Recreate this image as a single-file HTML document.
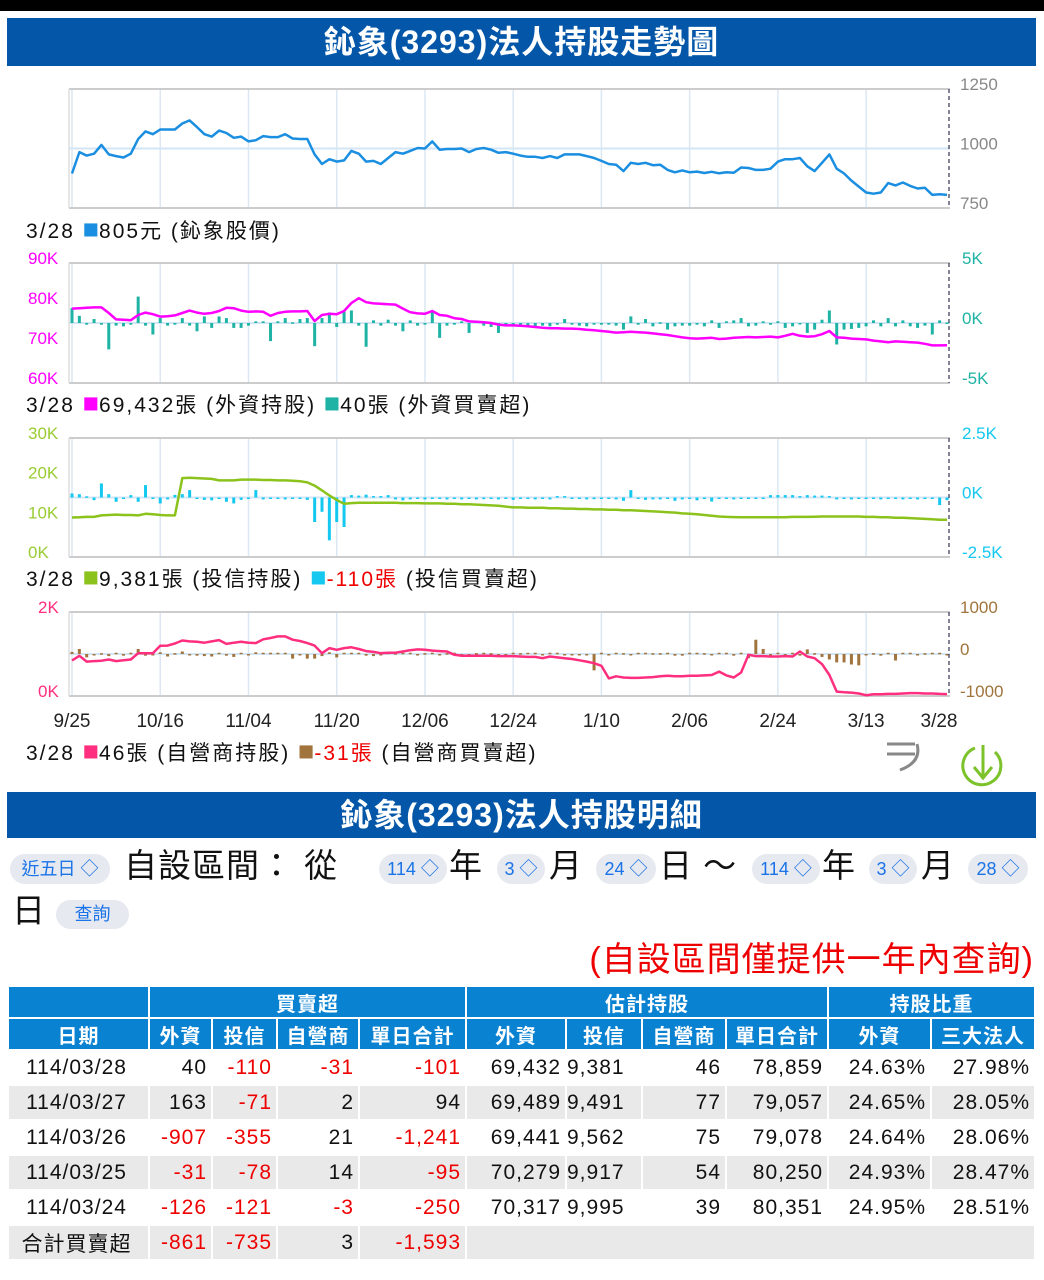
<!DOCTYPE html>
<html><head><meta charset="utf-8">
<style>
*{margin:0;padding:0;box-sizing:border-box}
body{width:1044px;height:1280px;background:#fff;font-family:"Liberation Sans","Noto Sans CJK TC",sans-serif;position:relative;overflow:hidden;color:#111}
.abs{position:absolute}
.bar{left:7px;width:1029px;background:#0457a8;color:#fff;font-weight:bold;font-size:32px;text-align:center;letter-spacing:1px}
.pill{position:absolute;background:#e6e9ef;border-radius:16px;color:#1a73e8;font-size:18px;height:30px;line-height:30px;text-align:center}
.big{position:absolute;font-size:33px;line-height:40px;letter-spacing:1px}
table{position:absolute;left:7px;top:985px;width:1029px;border-collapse:collapse;font-size:21px}
td,th{border:2px solid #fff;white-space:nowrap}
th{background:#0a82d2;color:#fff;font-weight:bold;height:32px;font-size:20px;letter-spacing:1px}
td{height:35px;text-align:right;padding-right:4px;letter-spacing:1px}
td.d{text-align:center}
tr.g td{background:#e9e9e9}
.r{color:#e00}
</style></head><body>
<div class="abs" style="left:0;top:0;width:1044px;height:11px;background:#000"></div>
<div class="abs bar" style="top:18px;height:48px;line-height:48px">鈊象(3293)法人持股走勢圖</div>
<svg id="ch" class="abs" style="left:0;top:0" width="1044" height="790"></svg>
<div class="abs bar" style="top:792px;height:46px;line-height:46px">鈊象(3293)法人持股明細</div>
<div class="pill" style="left:10px;top:854px;width:100px">近五日 ◇</div>
<div class="big" style="left:124px;top:846px">自設區間： 從</div>
<div class="pill" style="left:379px;top:854px;width:68px">114 ◇</div>
<div class="big" style="left:449px;top:846px">年</div>
<div class="pill" style="left:497px;top:854px;width:48px">3 ◇</div>
<div class="big" style="left:549px;top:846px">月</div>
<div class="pill" style="left:596px;top:854px;width:60px">24 ◇</div>
<div class="big" style="left:659px;top:846px">日 ～</div>
<div class="pill" style="left:752px;top:854px;width:68px">114 ◇</div>
<div class="big" style="left:822px;top:846px">年</div>
<div class="pill" style="left:869px;top:854px;width:48px">3 ◇</div>
<div class="big" style="left:921px;top:846px">月</div>
<div class="pill" style="left:968px;top:854px;width:60px">28 ◇</div>
<div class="big" style="left:12px;top:891px">日</div>
<div class="pill" style="left:56px;top:900px;width:73px;height:29px;line-height:29px">查詢</div>
<div class="big r" style="right:10px;top:940px;font-size:34px">(自設區間僅提供一年內查詢)</div>
<table>
<tr><th></th><th colspan="4">買賣超</th><th colspan="4">估計持股</th><th colspan="2">持股比重</th></tr>
<tr><th style="width:141px">日期</th><th style="width:63px">外資</th><th style="width:65px">投信</th><th style="width:82px">自營商</th><th style="width:107px">單日合計</th><th style="width:100px">外資</th><th style="width:76px">投信</th><th style="width:84px">自營商</th><th style="width:102px">單日合計</th><th style="width:103px">外資</th><th>三大法人</th></tr>
<tr><td class="d">114/03/28</td><td>40</td><td class="r">-110</td><td class="r">-31</td><td class="r">-101</td><td>69,432</td><td style="text-align:left">9,381</td><td>46</td><td>78,859</td><td>24.63%</td><td>27.98%</td></tr>
<tr class="g"><td class="d">114/03/27</td><td>163</td><td class="r">-71</td><td>2</td><td>94</td><td>69,489</td><td style="text-align:left">9,491</td><td>77</td><td>79,057</td><td>24.65%</td><td>28.05%</td></tr>
<tr><td class="d">114/03/26</td><td class="r">-907</td><td class="r">-355</td><td>21</td><td class="r">-1,241</td><td>69,441</td><td style="text-align:left">9,562</td><td>75</td><td>79,078</td><td>24.64%</td><td>28.06%</td></tr>
<tr class="g"><td class="d">114/03/25</td><td class="r">-31</td><td class="r">-78</td><td>14</td><td class="r">-95</td><td>70,279</td><td style="text-align:left">9,917</td><td>54</td><td>80,250</td><td>24.93%</td><td>28.47%</td></tr>
<tr><td class="d">114/03/24</td><td class="r">-126</td><td class="r">-121</td><td class="r">-3</td><td class="r">-250</td><td>70,317</td><td style="text-align:left">9,995</td><td>39</td><td>80,351</td><td>24.95%</td><td>28.51%</td></tr>
<tr class="g"><td class="d">合計買賣超</td><td class="r">-861</td><td class="r">-735</td><td>3</td><td class="r">-1,593</td><td colspan="6"></td></tr>
</table>
<script>
const dateLabels=["9/25","10/16","11/04","11/20","12/06","12/24","1/10","2/06","2/24","3/13","3/28"];
const price=[895,985,970,978,1015,975,968,962,978,1040,1072,1060,1080,1080,1080,1105,1118,1090,1060,1050,1075,1065,1045,1050,1030,1035,1052,1048,1048,1060,1042,1040,1040,975,935,955,945,950,990,978,945,948,935,960,985,978,990,1002,1000,1030,995,998,998,1000,985,998,1002,995,982,985,978,970,965,965,960,968,960,975,975,975,968,960,948,935,932,905,940,935,940,930,932,910,900,908,900,903,897,902,896,900,898,920,918,910,910,915,945,955,955,960,925,905,940,975,915,895,865,840,815,810,815,855,845,857,843,832,835,805,808,805];
const foreignHold=[78.6,78.7,78.8,78.9,78.9,77.5,75.9,75.8,75.7,77.0,77.6,77.2,76.6,76.7,76.9,77.5,78.1,77.6,77.3,77.5,78.0,78.8,78.7,78.1,77.8,77.9,77.8,76.8,77.5,77.8,77.9,77.9,78.0,75.5,77.0,77.3,77.2,78.0,80.0,81.2,80.2,79.9,79.8,79.7,79.6,78.6,77.7,77.4,77.3,78.0,77.0,76.8,76.2,76.0,75.4,75.3,75.2,75.0,74.6,74.4,74.4,74.3,74.2,74.0,73.8,73.7,73.7,73.6,73.6,73.5,73.3,73.2,73.0,72.8,72.6,72.7,72.8,72.7,72.6,72.4,72.2,72.0,71.7,71.4,71.2,71.1,71.2,71.3,71.0,71.1,71.3,71.4,71.5,71.4,71.5,71.6,71.4,71.8,72.3,71.8,71.6,71.7,72.2,73.0,71.4,71.3,71.1,71.0,70.9,70.6,70.4,70.2,70.4,70.3,70.2,70.1,69.8,69.4,69.4,69.432];
const foreignNet=[1240,600,-140,330,-140,-2200,-220,-280,-140,2200,-220,-960,410,-220,-140,410,-220,-690,550,-410,550,410,-410,-410,-220,140,140,-1510,140,410,55,330,410,-1930,410,880,-330,1045,1045,-220,-1980,220,-220,275,-220,-690,220,-220,-140,960,-1240,-220,-140,140,-825,140,-220,-330,-825,-140,-220,-140,-220,-330,-220,-280,-140,330,-140,-220,-280,-140,-140,-140,-220,-550,550,-140,330,-280,55,-550,-280,-220,-220,-140,-280,220,-410,140,220,410,-280,-220,140,-140,140,-410,-280,-55,-825,-550,275,1045,-1790,-550,-495,-410,-280,220,-280,410,-280,220,-280,-410,-220,-960,220,40];
const trustHold=[9.97,10.0,10.1,10.1,10.5,10.6,10.7,10.6,10.6,10.5,10.9,10.8,10.6,10.5,10.5,19.9,20.0,19.9,19.8,19.7,19.3,19.3,19.3,19.5,19.5,19.5,19.4,19.4,19.3,19.3,19.2,19.1,18.8,18.0,16.8,15.5,14.4,13.4,13.6,13.7,13.7,13.7,13.7,13.7,13.7,13.6,13.6,13.6,13.5,13.5,13.5,13.4,13.4,13.3,13.3,13.2,13.1,13.0,12.9,12.7,12.5,12.5,12.4,12.4,12.4,12.3,12.3,12.2,12.2,12.1,12.1,12.0,12.0,11.9,11.9,11.8,11.8,11.7,11.6,11.5,11.4,11.3,11.2,11.0,10.9,10.8,10.6,10.4,10.2,10.1,10.05,10.0,10.0,10.0,10.0,10.0,10.0,10.0,10.1,10.1,10.1,10.15,10.2,10.2,10.2,10.2,10.2,10.2,10.1,10.1,10.0,10.0,9.9,9.9,9.8,9.7,9.6,9.5,9.4,9.381];
const trustNet=[170,140,50,-110,590,140,-180,0,100,-180,520,-60,-250,-80,110,140,310,-60,-100,-120,-60,-180,-250,-100,-60,310,-80,-60,-50,-80,-60,-60,-100,-1030,-600,-1800,-1030,-1240,100,80,120,60,60,100,-80,-120,-80,-60,-80,-60,-40,-80,-60,-80,-60,-80,-70,-60,-80,-60,-100,-60,-60,-80,-60,-80,60,60,-60,-60,-80,-70,-60,-60,-80,-140,310,-60,-100,-80,-80,-60,-140,-80,-60,-120,-60,-170,-60,-60,-80,-60,-60,-50,-60,100,100,100,100,60,100,80,80,60,-80,-60,-80,-60,-60,-60,-80,-60,-60,-80,-60,-80,-60,-60,-320,-110];
const dealerHold=[845,956,820,830,840,870,830,850,870,1020,1020,1020,1195,1200,1250,1322,1300,1290,1270,1300,1330,1240,1270,1290,1270,1260,1350,1380,1418,1418,1340,1310,1260,1200,1020,1140,1100,1140,1160,1120,1070,1050,1020,1030,1030,1060,1090,1110,1100,1080,1070,1060,980,960,960,960,960,960,950,950,950,940,930,930,900,940,920,900,880,850,820,780,720,420,470,440,430,430,440,450,470,480,470,470,480,480,490,500,582,490,440,560,980,950,950,940,940,950,940,1060,940,900,760,500,104,90,80,60,20,40,40,50,50,60,70,70,60,60,50,46];
const dealerNet=[50,120,-80,-30,20,-50,30,-40,30,120,-40,-30,40,-60,20,60,-30,-40,-50,-60,30,-40,-70,30,-30,40,30,30,30,30,-110,-30,-110,-110,-50,40,-80,30,30,30,-40,-50,-30,30,20,30,30,-20,20,30,-30,20,30,-30,-40,20,30,20,-30,-20,30,20,30,30,-30,30,30,-20,-20,-20,-20,-390,30,-20,30,20,-20,30,30,20,20,30,-40,-40,30,30,20,-30,30,30,-40,30,-100,340,120,-20,30,-30,30,-40,110,20,-70,-130,-200,-200,-250,-270,-30,20,-40,30,-155,30,30,-20,20,30,30,-31];

const svg=document.getElementById('ch');const NS='http://www.w3.org/2000/svg';
const X0=72,X1=947,N=price.length;
const xs=i=>X0+i*(X1-X0)/(N-1);
function mk(tag,attrs,name,text){const e=document.createElementNS(NS,tag);for(const k in attrs)e.setAttribute(k,attrs[k]);


if(text!==undefined)e.textContent=text;svg.appendChild(e);return e;}
function frame(top,bot,name,hlines){
 for(let k=0;k<dateLabels.length-1;k++){const x=xs(k*12);mk('line',{x1:x,x2:x,y1:top,y2:bot,stroke:'#dbe7f3','stroke-width':1.5},name+'-gridline');}
 (hlines||[]).forEach(y=>mk('line',{x1:69,x2:950,y1:y,y2:y,stroke:'#d3e6f5','stroke-width':2},name+'-hline'));
 mk('line',{x1:69,x2:950,y1:top,y2:top,stroke:'#ccc','stroke-width':2},name+'-top-border');
 mk('line',{x1:69,x2:950,y1:bot,y2:bot,stroke:'#ccc','stroke-width':2},name+'-bottom-border');
 mk('line',{x1:69,x2:69,y1:top,y2:bot,stroke:'#ddd','stroke-width':1.5},name+'-left-border');
 mk('line',{x1:X1+2,x2:X1+2,y1:top,y2:bot,stroke:'#335','stroke-width':1.2,'stroke-dasharray':'4,3'},name+'-cursor');
}
function line(vals,sc,color,name,w){const d=vals.map((v,i)=>(i?'L':'M')+xs(i).toFixed(1)+','+sc(v).toFixed(1)).join('');mk('path',{d,fill:'none',stroke:color,'stroke-width':w||2.5,'stroke-linejoin':'round'},name);}
function bars(vals,sc,color,name){const z=sc(0);vals.forEach((v,i)=>{const y=sc(v);mk('rect',{x:xs(i)-1.5,y:Math.min(y,z),width:3,height:Math.max(1.5,Math.abs(y-z)),fill:color},name);});}
function lab(x,y,t,c,name,anchor){mk('text',{x,y,fill:c,'font-size':17,'text-anchor':anchor||'start','font-family':'Liberation Sans, sans-serif'},name,t);}
function legend(y,parts,name){const t=mk('text',{x:26,y,'font-size':21,'letter-spacing':'2',fill:'#111','font-family':'Liberation Sans, Noto Sans CJK TC, sans-serif'},name);
 parts.forEach(p=>{const s=document.createElementNS(NS,'tspan');if(p[1])s.setAttribute('fill',p[1]);if(p[0]==='■'){s.setAttribute('font-size','27');s.setAttribute('letter-spacing','0');}s.textContent=p[0];t.appendChild(s);});}

// chart 1 price
const pY=v=>208-(v-750)/500*119;
frame(89,208,'price-chart',[pY(1000)]);
line(price,pY,'#1a8ee0','price-line');
[[1250,'1250'],[1000,'1000'],[750,'750']].forEach(a=>lab(960,pY(a[0])+1,a[1],'#888','price-axis-tick'));
legend(238,[['3/28 '],['■','#1a8ee0'],['805元 (鈊象股價)']],'price-legend');

// chart 2 foreign
const fY=v=>383-(v-60)/30*120, fnY=v=>323-v/5000*60;
frame(263,383,'foreign-chart',[fnY(0)]);
bars(foreignNet,fnY,'#1fb3a5','foreign-net-bar');
line(foreignHold,fY,'#ff00ff','foreign-holding-line');
[[90,'90K'],[80,'80K'],[70,'70K'],[60,'60K']].forEach(a=>lab(28,fY(a[0])+1,a[1],'#f0f','foreign-left-tick'));
[[5000,'5K'],[0,'0K'],[-5000,'-5K']].forEach(a=>lab(962,fnY(a[0])+1,a[1],'#1fb3a5','foreign-right-tick'));
legend(412,[['3/28 '],['■','#ff00ff'],['69,432張 (外資持股) '],['■','#1fb3a5'],['40張 (外資買賣超)']],'foreign-legend');

// chart 3 trust
const tY=v=>557-v/30*119, tnY=v=>497.5-v/2500*59.5;
frame(438,557,'trust-chart',[tnY(0)]);
bars(trustNet,tnY,'#14c8f0','trust-net-bar');
line(trustHold,tY,'#8cc21c','trust-holding-line');
[[30,'30K'],[20,'20K'],[10,'10K'],[0,'0K']].forEach(a=>lab(28,tY(a[0])+1,a[1],'#9c3','trust-left-tick'));
[[2500,'2.5K'],[0,'0K'],[-2500,'-2.5K']].forEach(a=>lab(962,tnY(a[0])+1,a[1],'#14c8f0','trust-right-tick'));
legend(586,[['3/28 '],['■','#8cc21c'],['9,381張 (投信持股) '],['■','#14c8f0'],['-110張','#e00'],[' (投信買賣超)']],'trust-legend');

// chart 4 dealer
const dY=v=>696-v/2000*84, dnY=v=>654-v/1000*42;
frame(612,696,'dealer-chart',[dnY(0)]);
bars(dealerNet,dnY,'#a0743c','dealer-net-bar');
line(dealerHold,dY,'#ff2e7e','dealer-holding-line');
[[2000,'2K'],[0,'0K']].forEach(a=>lab(38,dY(a[0])+1,a[1],'#ff2e7e','dealer-left-tick'));
[[1000,'1000'],[0,'0'],[-1000,'-1000']].forEach(a=>lab(960,dnY(a[0])+1,a[1],'#a0743c','dealer-right-tick'));
dateLabels.forEach((t,k)=>{const i=k<10?k*12:N-1;mk('text',{x:xs(i)-(k==10?8:0),y:727,fill:'#222','font-size':19,'text-anchor':'middle','font-family':'Liberation Sans, sans-serif'},'x-axis-date-label',t);});
legend(760,[['3/28 '],['■','#ff2e7e'],['46張 (自營商持股) '],['■','#a0743c'],['-31張','#e00'],[' (自營商買賣超)']],'dealer-legend');
// icons
mk('path',{d:'M887,744 L915,744 M887,754 L915,754 M917,744 Q922,762 900,770',stroke:'#888','stroke-width':3,fill:'none'},'menu-icon');
const dl=mk('g',{},'download-icon');
mk('path',{d:'M975,748 A19,19 0 1 0 995,752',stroke:'#7cc22a','stroke-width':3,fill:'none'},'download-ring');
mk('path',{d:'M983,745 L983,778 M974,767 L983,778 L992,767',stroke:'#7cc22a','stroke-width':3,fill:'none'},'download-arrow');
</script>
</body></html>
